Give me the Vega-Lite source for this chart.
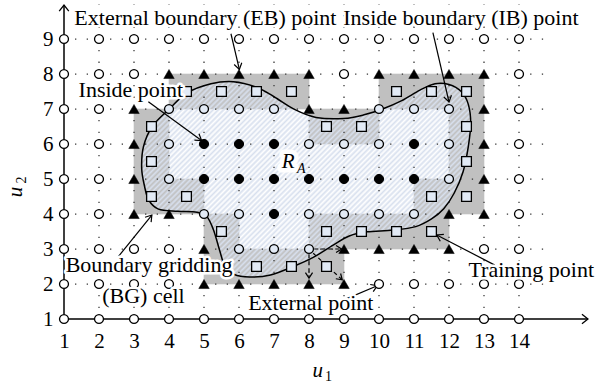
{
  "$schema": "https://vega.github.io/schema/vega-lite/v6.json",
  "width": 525,
  "height": 315,
  "autosize": {"type": "none"},
  "padding": {"left": 64, "top": 4, "right": 19, "bottom": 68},
  "background": "white",
  "config": {"view": {"stroke": null}, "text": {"font": "Liberation Serif"}},
  "datasets": {
    "cells": [
      {"x":4.5,"y":7.5},{"x":5.5,"y":7.5},{"x":6.5,"y":7.5},{"x":7.5,"y":7.5},{"x":10.5,"y":7.5},{"x":11.5,"y":7.5},{"x":12.5,"y":7.5},
      {"x":3.5,"y":6.5},{"x":8.5,"y":6.5},{"x":9.5,"y":6.5},{"x":12.5,"y":6.5},
      {"x":3.5,"y":5.5},{"x":12.5,"y":5.5},
      {"x":3.5,"y":4.5},{"x":4.5,"y":4.5},{"x":11.5,"y":4.5},{"x":12.5,"y":4.5},
      {"x":5.5,"y":3.5},{"x":8.5,"y":3.5},{"x":9.5,"y":3.5},{"x":10.5,"y":3.5},{"x":11.5,"y":3.5},
      {"x":5.5,"y":2.5},{"x":6.5,"y":2.5},{"x":7.5,"y":2.5},{"x":8.5,"y":2.5}
    ],
    "curve": [
      {"i":1,"x":4.03,"y":7.02},{"i":2,"x":4.5,"y":7.45},{"i":3,"x":5.2,"y":7.72},{"i":4,"x":5.84,"y":7.78},
      {"i":5,"x":6.5,"y":7.62},{"i":6,"x":7.0,"y":7.35},{"i":7,"x":7.6,"y":6.98},{"i":8,"x":8.2,"y":6.76},
      {"i":9,"x":9.0,"y":6.73},{"i":10,"x":9.6,"y":6.84},{"i":11,"x":10.1,"y":7.0},{"i":12,"x":10.65,"y":7.24},
      {"i":13,"x":11.17,"y":7.54},{"i":14,"x":11.6,"y":7.72},{"i":15,"x":12.0,"y":7.7},{"i":16,"x":12.35,"y":7.5},
      {"i":17,"x":12.55,"y":7.14},{"i":18,"x":12.62,"y":6.6},{"i":19,"x":12.55,"y":5.92},{"i":20,"x":12.4,"y":5.2},
      {"i":21,"x":12.15,"y":4.6},{"i":22,"x":11.85,"y":4.15},{"i":23,"x":11.5,"y":3.86},{"i":24,"x":11.05,"y":3.64},
      {"i":25,"x":10.4,"y":3.54},{"i":26,"x":9.65,"y":3.49},{"i":27,"x":9.15,"y":3.37},{"i":28,"x":8.69,"y":3.11},
      {"i":29,"x":8.12,"y":2.76},{"i":30,"x":7.55,"y":2.5},{"i":31,"x":6.9,"y":2.26},{"i":32,"x":6.3,"y":2.2},
      {"i":33,"x":5.85,"y":2.28},{"i":34,"x":5.6,"y":2.5},{"i":35,"x":5.45,"y":2.95},{"i":36,"x":5.27,"y":3.55},
      {"i":37,"x":5.08,"y":3.93},{"i":38,"x":4.8,"y":4.05},{"i":39,"x":4.25,"y":4.08},{"i":40,"x":3.7,"y":4.14},
      {"i":41,"x":3.42,"y":4.4},{"i":42,"x":3.3,"y":4.8},{"i":43,"x":3.22,"y":5.3},{"i":44,"x":3.27,"y":5.92},
      {"i":45,"x":3.52,"y":6.5}
    ],
    "grid": [
      {"x":1,"x2":14.7,"y":2,"y2":2},{"x":1,"x2":14.7,"y":3,"y2":3},{"x":1,"x2":14.7,"y":4,"y2":4},{"x":1,"x2":14.7,"y":5,"y2":5},
      {"x":1,"x2":14.7,"y":6,"y2":6},{"x":1,"x2":14.7,"y":7,"y2":7},{"x":1,"x2":14.7,"y":8,"y2":8},{"x":1,"x2":14.7,"y":9,"y2":9},
      {"x":2,"x2":2,"y":1,"y2":10},{"x":3,"x2":3,"y":1,"y2":10},{"x":4,"x2":4,"y":1,"y2":10},{"x":5,"x2":5,"y":1,"y2":10},
      {"x":6,"x2":6,"y":1,"y2":10},{"x":7,"x2":7,"y":1,"y2":10},{"x":8,"x2":8,"y":1,"y2":10},{"x":9,"x2":9,"y":1,"y2":10},
      {"x":10,"x2":10,"y":1,"y2":10},{"x":11,"x2":11,"y":1,"y2":10},{"x":12,"x2":12,"y":1,"y2":10},{"x":13,"x2":13,"y":1,"y2":10},
      {"x":14,"x2":14,"y":1,"y2":10}
    ],
    "pts": [
      {"x":1,"y":9,"t":"ext"},{"x":2,"y":9,"t":"ext"},{"x":3,"y":9,"t":"ext"},{"x":4,"y":9,"t":"ext"},{"x":5,"y":9,"t":"ext"},{"x":6,"y":9,"t":"ext"},{"x":7,"y":9,"t":"ext"},
      {"x":8,"y":9,"t":"ext"},{"x":9,"y":9,"t":"ext"},{"x":10,"y":9,"t":"ext"},{"x":11,"y":9,"t":"ext"},{"x":12,"y":9,"t":"ext"},{"x":13,"y":9,"t":"ext"},{"x":14,"y":9,"t":"ext"},
      {"x":1,"y":8,"t":"ext"},{"x":2,"y":8,"t":"ext"},{"x":3,"y":8,"t":"ext"},{"x":4,"y":8,"t":"eb"},{"x":5,"y":8,"t":"eb"},{"x":6,"y":8,"t":"eb"},{"x":7,"y":8,"t":"eb"},
      {"x":8,"y":8,"t":"eb"},{"x":9,"y":8,"t":"ext"},{"x":10,"y":8,"t":"eb"},{"x":11,"y":8,"t":"eb"},{"x":12,"y":8,"t":"eb"},{"x":13,"y":8,"t":"eb"},{"x":14,"y":8,"t":"ext"},
      {"x":1,"y":7,"t":"ext"},{"x":2,"y":7,"t":"ext"},{"x":3,"y":7,"t":"eb"},{"x":4,"y":7,"t":"ib"},{"x":5,"y":7,"t":"ib"},{"x":6,"y":7,"t":"ib"},{"x":7,"y":7,"t":"ib"},
      {"x":8,"y":7,"t":"eb"},{"x":9,"y":7,"t":"eb"},{"x":10,"y":7,"t":"ib"},{"x":11,"y":7,"t":"ib"},{"x":12,"y":7,"t":"ib"},{"x":13,"y":7,"t":"eb"},{"x":14,"y":7,"t":"ext"},
      {"x":1,"y":6,"t":"ext"},{"x":2,"y":6,"t":"ext"},{"x":3,"y":6,"t":"eb"},{"x":4,"y":6,"t":"ib"},{"x":5,"y":6,"t":"in"},{"x":6,"y":6,"t":"in"},{"x":7,"y":6,"t":"in"},
      {"x":8,"y":6,"t":"ib"},{"x":9,"y":6,"t":"ib"},{"x":10,"y":6,"t":"ib"},{"x":11,"y":6,"t":"in"},{"x":12,"y":6,"t":"ib"},{"x":13,"y":6,"t":"eb"},{"x":14,"y":6,"t":"ext"},
      {"x":1,"y":5,"t":"ext"},{"x":2,"y":5,"t":"ext"},{"x":3,"y":5,"t":"eb"},{"x":4,"y":5,"t":"ib"},{"x":5,"y":5,"t":"in"},{"x":6,"y":5,"t":"in"},{"x":7,"y":5,"t":"in"},
      {"x":8,"y":5,"t":"in"},{"x":9,"y":5,"t":"in"},{"x":10,"y":5,"t":"in"},{"x":11,"y":5,"t":"in"},{"x":12,"y":5,"t":"ib"},{"x":13,"y":5,"t":"eb"},{"x":14,"y":5,"t":"ext"},
      {"x":1,"y":4,"t":"ext"},{"x":2,"y":4,"t":"ext"},{"x":3,"y":4,"t":"eb"},{"x":4,"y":4,"t":"eb"},{"x":5,"y":4,"t":"ib"},{"x":6,"y":4,"t":"ib"},{"x":7,"y":4,"t":"in"},
      {"x":8,"y":4,"t":"ib"},{"x":9,"y":4,"t":"ib"},{"x":10,"y":4,"t":"ib"},{"x":11,"y":4,"t":"ib"},{"x":12,"y":4,"t":"eb"},{"x":13,"y":4,"t":"eb"},{"x":14,"y":4,"t":"ext"},
      {"x":1,"y":3,"t":"ext"},{"x":2,"y":3,"t":"ext"},{"x":3,"y":3,"t":"ext"},{"x":4,"y":3,"t":"ext"},{"x":5,"y":3,"t":"eb"},{"x":6,"y":3,"t":"ib"},{"x":7,"y":3,"t":"ib"},
      {"x":8,"y":3,"t":"ib"},{"x":9,"y":3,"t":"eb"},{"x":10,"y":3,"t":"eb"},{"x":11,"y":3,"t":"eb"},{"x":12,"y":3,"t":"eb"},{"x":13,"y":3,"t":"ext"},{"x":14,"y":3,"t":"ext"},
      {"x":1,"y":2,"t":"ext"},{"x":2,"y":2,"t":"ext"},{"x":3,"y":2,"t":"ext"},{"x":4,"y":2,"t":"ext"},{"x":5,"y":2,"t":"eb"},{"x":6,"y":2,"t":"eb"},{"x":7,"y":2,"t":"eb"},
      {"x":8,"y":2,"t":"eb"},{"x":9,"y":2,"t":"eb"},{"x":10,"y":2,"t":"ext"},{"x":11,"y":2,"t":"ext"},{"x":12,"y":2,"t":"ext"},{"x":13,"y":2,"t":"ext"},{"x":14,"y":2,"t":"ext"},
      {"x":1,"y":1,"t":"ext"},{"x":2,"y":1,"t":"ext"},{"x":3,"y":1,"t":"ext"},{"x":4,"y":1,"t":"ext"},{"x":5,"y":1,"t":"ext"},{"x":6,"y":1,"t":"ext"},{"x":7,"y":1,"t":"ext"},
      {"x":8,"y":1,"t":"ext"},{"x":9,"y":1,"t":"ext"},{"x":10,"y":1,"t":"ext"},{"x":11,"y":1,"t":"ext"},{"x":12,"y":1,"t":"ext"},{"x":13,"y":1,"t":"ext"},{"x":14,"y":1,"t":"ext"}
    ],
    "arrows": [
      {"x":5.77,"y":9.15,"x2":6.01,"y2":8.13},
      {"x":11.54,"y":9.18,"x2":12.0,"y2":7.2},
      {"x":3.41,"y":7.21,"x2":4.93,"y2":6.1},
      {"x":2.55,"y":2.78,"x2":3.51,"y2":3.97},
      {"x":13.31,"y":2.54,"x2":11.65,"y2":3.4},
      {"x":8.98,"y":1.54,"x2":9.95,"y2":1.95}
    ],
    "nbr": [
      {"x":8.15,"y":3.0,"x2":8.93,"y2":3.0},
      {"x":8.0,"y":2.85,"x2":8.0,"y2":2.17},
      {"x":8.12,"y":2.88,"x2":8.95,"y2":2.12}
    ],
    "axes": [
      {"x":1,"y":1,"x2":15.97,"y2":1},
      {"x":1,"y":1,"x2":1,"y2":9.97}
    ],
    "notes": [
      {"x":5.04,"y":9.4,"text":"External boundary (EB) point"},
      {"x":12.34,"y":9.4,"text":"Inside boundary (IB) point"},
      {"x":2.91,"y":7.35,"text":"Inside point"},
      {"x":3.43,"y":2.35,"text":"Boundary gridding"},
      {"x":3.27,"y":1.45,"text":"(BG) cell"},
      {"x":8.05,"y":1.25,"text":"External point"},
      {"x":14.35,"y":2.19,"text":"Training point"}
    ],
    "ra": [
      {"x":7.22,"y":5.31,"text":"R"}
    ],
    "ra_sub": [
      {"x":7.66,"y":5.18,"text":"A"}
    ]
  },
  "encoding": {
    "x": {"field": "x", "type": "quantitative", "scale": {"domain": [1, 16], "nice": false, "zero": false},
          "axis": {"values": [1,2,3,4,5,6,7,8,9,10,11,12,13,14], "title": null, "grid": false, "ticks": false, "domain": false,
                   "labelFont": "Liberation Serif", "labelFontSize": 21, "labelColor": "black", "labelPadding": 11, "labelFlush": false, "labelOverlap": false}},
    "y": {"field": "y", "type": "quantitative", "scale": {"domain": [1, 10], "nice": false, "zero": false},
          "axis": {"values": [1,2,3,4,5,6,7,8,9], "title": null, "grid": false, "ticks": false, "domain": false,
                   "labelFont": "Liberation Serif", "labelFontSize": 21, "labelColor": "black", "labelPadding": 11, "labelFlush": false, "labelOverlap": false}}
  },
  "layer": [
    {
      "data": {"name": "cells"},
      "mark": {"type": "point", "shape": "square", "filled": true, "fill": "#c0c0c0", "stroke": "#c0c0c0", "strokeWidth": 0.6, "size": 1225, "opacity": 1}
    },
    {
      "data": {"name": "curve"},
      "mark": {"type": "line", "interpolate": "cardinal-closed", "strokeOpacity": 0,
        "fill": {"gradient": "linear", "x1": 0, "y1": 0, "x2": 1.18, "y2": 0.7,
          "stops": [
            {"offset":0,"color":"#d8e0ee"},{"offset":0.005,"color":"#d8e0ee00"},{"offset":0.01,"color":"#d8e0ee"},{"offset":0.015,"color":"#d8e0ee00"},
            {"offset":0.02,"color":"#d8e0ee"},{"offset":0.025,"color":"#d8e0ee00"},{"offset":0.03,"color":"#d8e0ee"},{"offset":0.035,"color":"#d8e0ee00"},
            {"offset":0.04,"color":"#d8e0ee"},{"offset":0.045,"color":"#d8e0ee00"},{"offset":0.05,"color":"#d8e0ee"},{"offset":0.055,"color":"#d8e0ee00"},
            {"offset":0.06,"color":"#d8e0ee"},{"offset":0.065,"color":"#d8e0ee00"},{"offset":0.07,"color":"#d8e0ee"},{"offset":0.075,"color":"#d8e0ee00"},
            {"offset":0.08,"color":"#d8e0ee"},{"offset":0.085,"color":"#d8e0ee00"},{"offset":0.09,"color":"#d8e0ee"},{"offset":0.095,"color":"#d8e0ee00"},
            {"offset":0.1,"color":"#d8e0ee"},{"offset":0.105,"color":"#d8e0ee00"},{"offset":0.11,"color":"#d8e0ee"},{"offset":0.115,"color":"#d8e0ee00"},
            {"offset":0.12,"color":"#d8e0ee"},{"offset":0.125,"color":"#d8e0ee00"},{"offset":0.13,"color":"#d8e0ee"},{"offset":0.135,"color":"#d8e0ee00"},
            {"offset":0.14,"color":"#d8e0ee"},{"offset":0.145,"color":"#d8e0ee00"},{"offset":0.15,"color":"#d8e0ee"},{"offset":0.155,"color":"#d8e0ee00"},
            {"offset":0.16,"color":"#d8e0ee"},{"offset":0.165,"color":"#d8e0ee00"},{"offset":0.17,"color":"#d8e0ee"},{"offset":0.175,"color":"#d8e0ee00"},
            {"offset":0.18,"color":"#d8e0ee"},{"offset":0.185,"color":"#d8e0ee00"},{"offset":0.19,"color":"#d8e0ee"},{"offset":0.195,"color":"#d8e0ee00"},
            {"offset":0.2,"color":"#d8e0ee"},{"offset":0.205,"color":"#d8e0ee00"},{"offset":0.21,"color":"#d8e0ee"},{"offset":0.215,"color":"#d8e0ee00"},
            {"offset":0.22,"color":"#d8e0ee"},{"offset":0.225,"color":"#d8e0ee00"},{"offset":0.23,"color":"#d8e0ee"},{"offset":0.235,"color":"#d8e0ee00"},
            {"offset":0.24,"color":"#d8e0ee"},{"offset":0.245,"color":"#d8e0ee00"},{"offset":0.25,"color":"#d8e0ee"},{"offset":0.255,"color":"#d8e0ee00"},
            {"offset":0.26,"color":"#d8e0ee"},{"offset":0.265,"color":"#d8e0ee00"},{"offset":0.27,"color":"#d8e0ee"},{"offset":0.275,"color":"#d8e0ee00"},
            {"offset":0.28,"color":"#d8e0ee"},{"offset":0.285,"color":"#d8e0ee00"},{"offset":0.29,"color":"#d8e0ee"},{"offset":0.295,"color":"#d8e0ee00"},
            {"offset":0.3,"color":"#d8e0ee"},{"offset":0.305,"color":"#d8e0ee00"},{"offset":0.31,"color":"#d8e0ee"},{"offset":0.315,"color":"#d8e0ee00"},
            {"offset":0.32,"color":"#d8e0ee"},{"offset":0.325,"color":"#d8e0ee00"},{"offset":0.33,"color":"#d8e0ee"},{"offset":0.335,"color":"#d8e0ee00"},
            {"offset":0.34,"color":"#d8e0ee"},{"offset":0.345,"color":"#d8e0ee00"},{"offset":0.35,"color":"#d8e0ee"},{"offset":0.355,"color":"#d8e0ee00"},
            {"offset":0.36,"color":"#d8e0ee"},{"offset":0.365,"color":"#d8e0ee00"},{"offset":0.37,"color":"#d8e0ee"},{"offset":0.375,"color":"#d8e0ee00"},
            {"offset":0.38,"color":"#d8e0ee"},{"offset":0.385,"color":"#d8e0ee00"},{"offset":0.39,"color":"#d8e0ee"},{"offset":0.395,"color":"#d8e0ee00"},
            {"offset":0.4,"color":"#d8e0ee"},{"offset":0.405,"color":"#d8e0ee00"},{"offset":0.41,"color":"#d8e0ee"},{"offset":0.415,"color":"#d8e0ee00"},
            {"offset":0.42,"color":"#d8e0ee"},{"offset":0.425,"color":"#d8e0ee00"},{"offset":0.43,"color":"#d8e0ee"},{"offset":0.435,"color":"#d8e0ee00"},
            {"offset":0.44,"color":"#d8e0ee"},{"offset":0.445,"color":"#d8e0ee00"},{"offset":0.45,"color":"#d8e0ee"},{"offset":0.455,"color":"#d8e0ee00"},
            {"offset":0.46,"color":"#d8e0ee"},{"offset":0.465,"color":"#d8e0ee00"},{"offset":0.47,"color":"#d8e0ee"},{"offset":0.475,"color":"#d8e0ee00"},
            {"offset":0.48,"color":"#d8e0ee"},{"offset":0.485,"color":"#d8e0ee00"},{"offset":0.49,"color":"#d8e0ee"},{"offset":0.495,"color":"#d8e0ee00"},
            {"offset":0.5,"color":"#d8e0ee"},{"offset":0.505,"color":"#d8e0ee00"},{"offset":0.51,"color":"#d8e0ee"},{"offset":0.515,"color":"#d8e0ee00"},
            {"offset":0.52,"color":"#d8e0ee"},{"offset":0.525,"color":"#d8e0ee00"},{"offset":0.53,"color":"#d8e0ee"},{"offset":0.535,"color":"#d8e0ee00"},
            {"offset":0.54,"color":"#d8e0ee"},{"offset":0.545,"color":"#d8e0ee00"},{"offset":0.55,"color":"#d8e0ee"},{"offset":0.555,"color":"#d8e0ee00"},
            {"offset":0.56,"color":"#d8e0ee"},{"offset":0.565,"color":"#d8e0ee00"},{"offset":0.57,"color":"#d8e0ee"},{"offset":0.575,"color":"#d8e0ee00"},
            {"offset":0.58,"color":"#d8e0ee"},{"offset":0.585,"color":"#d8e0ee00"},{"offset":0.59,"color":"#d8e0ee"},{"offset":0.595,"color":"#d8e0ee00"},
            {"offset":0.6,"color":"#d8e0ee"},{"offset":0.605,"color":"#d8e0ee00"},{"offset":0.61,"color":"#d8e0ee"},{"offset":0.615,"color":"#d8e0ee00"},
            {"offset":0.62,"color":"#d8e0ee"},{"offset":0.625,"color":"#d8e0ee00"},{"offset":0.63,"color":"#d8e0ee"},{"offset":0.635,"color":"#d8e0ee00"},
            {"offset":0.64,"color":"#d8e0ee"},{"offset":0.645,"color":"#d8e0ee00"},{"offset":0.65,"color":"#d8e0ee"},{"offset":0.655,"color":"#d8e0ee00"},
            {"offset":0.66,"color":"#d8e0ee"},{"offset":0.665,"color":"#d8e0ee00"},{"offset":0.67,"color":"#d8e0ee"},{"offset":0.675,"color":"#d8e0ee00"},
            {"offset":0.68,"color":"#d8e0ee"},{"offset":0.685,"color":"#d8e0ee00"},{"offset":0.69,"color":"#d8e0ee"},{"offset":0.695,"color":"#d8e0ee00"},
            {"offset":0.7,"color":"#d8e0ee"},{"offset":0.705,"color":"#d8e0ee00"},{"offset":0.71,"color":"#d8e0ee"},{"offset":0.715,"color":"#d8e0ee00"},
            {"offset":0.72,"color":"#d8e0ee"},{"offset":0.725,"color":"#d8e0ee00"},{"offset":0.73,"color":"#d8e0ee"},{"offset":0.735,"color":"#d8e0ee00"},
            {"offset":0.74,"color":"#d8e0ee"},{"offset":0.745,"color":"#d8e0ee00"},{"offset":0.75,"color":"#d8e0ee"},{"offset":0.755,"color":"#d8e0ee00"},
            {"offset":0.76,"color":"#d8e0ee"},{"offset":0.765,"color":"#d8e0ee00"},{"offset":0.77,"color":"#d8e0ee"},{"offset":0.775,"color":"#d8e0ee00"},
            {"offset":0.78,"color":"#d8e0ee"},{"offset":0.785,"color":"#d8e0ee00"},{"offset":0.79,"color":"#d8e0ee"},{"offset":0.795,"color":"#d8e0ee00"},
            {"offset":0.8,"color":"#d8e0ee"},{"offset":0.805,"color":"#d8e0ee00"},{"offset":0.81,"color":"#d8e0ee"},{"offset":0.815,"color":"#d8e0ee00"},
            {"offset":0.82,"color":"#d8e0ee"},{"offset":0.825,"color":"#d8e0ee00"},{"offset":0.83,"color":"#d8e0ee"},{"offset":0.835,"color":"#d8e0ee00"},
            {"offset":0.84,"color":"#d8e0ee"},{"offset":0.845,"color":"#d8e0ee00"},{"offset":0.85,"color":"#d8e0ee"},{"offset":0.855,"color":"#d8e0ee00"},
            {"offset":0.86,"color":"#d8e0ee"},{"offset":0.865,"color":"#d8e0ee00"},{"offset":0.87,"color":"#d8e0ee"},{"offset":0.875,"color":"#d8e0ee00"},
            {"offset":0.88,"color":"#d8e0ee"},{"offset":0.885,"color":"#d8e0ee00"},{"offset":0.89,"color":"#d8e0ee"},{"offset":0.895,"color":"#d8e0ee00"},
            {"offset":0.9,"color":"#d8e0ee"},{"offset":0.905,"color":"#d8e0ee00"},{"offset":0.91,"color":"#d8e0ee"},{"offset":0.915,"color":"#d8e0ee00"},
            {"offset":0.92,"color":"#d8e0ee"},{"offset":0.925,"color":"#d8e0ee00"},{"offset":0.93,"color":"#d8e0ee"},{"offset":0.935,"color":"#d8e0ee00"},
            {"offset":0.94,"color":"#d8e0ee"},{"offset":0.945,"color":"#d8e0ee00"},{"offset":0.95,"color":"#d8e0ee"},{"offset":0.955,"color":"#d8e0ee00"},
            {"offset":0.96,"color":"#d8e0ee"},{"offset":0.965,"color":"#d8e0ee00"},{"offset":0.97,"color":"#d8e0ee"},{"offset":0.975,"color":"#d8e0ee00"},
            {"offset":0.98,"color":"#d8e0ee"},{"offset":0.985,"color":"#d8e0ee00"},{"offset":0.99,"color":"#d8e0ee"},{"offset":0.995,"color":"#d8e0ee00"},
            {"offset":1,"color":"#d8e0ee"}
          ]}},
      "encoding": {"order": {"field": "i", "type": "quantitative"}}
    },
    {
      "data": {"name": "grid"},
      "mark": {"type": "rule", "stroke": "#333", "strokeWidth": 1.25, "strokeDash": [1.3, 10.37], "strokeDashOffset": 0.65},
      "encoding": {"x2": {"field": "x2"}, "y2": {"field": "y2"}}
    },
    {
      "data": {"name": "curve"},
      "mark": {"type": "line", "interpolate": "cardinal-closed", "stroke": "black", "strokeWidth": 1.5},
      "encoding": {"order": {"field": "i", "type": "quantitative"}}
    },
    {
      "data": {"name": "arrows"},
      "layer": [
        {
          "mark": {"type": "rule", "stroke": "black", "strokeWidth": 1.2},
          "encoding": {"x2": {"field": "x2"}, "y2": {"field": "y2"}}
        },
        {
          "transform": [
            {"calculate": "atan2(datum.y - datum.y2, datum.x2 - datum.x) * 180 / PI", "as": "ang"},
            {"calculate": "datum.x2", "as": "x"},
            {"calculate": "datum.y2", "as": "y"}
          ],
          "mark": {"type": "point", "shape": "M -1 -0.65 L 0 0 L -1 0.65", "filled": false, "stroke": "black", "strokeWidth": 1.2, "size": 144, "opacity": 1},
          "encoding": {"angle": {"field": "ang", "type": "quantitative", "scale": null}}
        }
      ]
    },
    {
      "data": {"name": "nbr"},
      "layer": [
        {
          "mark": {"type": "rule", "stroke": "black", "strokeWidth": 1.2, "strokeDash": [4, 3]},
          "encoding": {"x2": {"field": "x2"}, "y2": {"field": "y2"}}
        },
        {
          "transform": [
            {"calculate": "atan2(datum.y - datum.y2, datum.x2 - datum.x) * 180 / PI", "as": "ang"},
            {"calculate": "datum.x2", "as": "x"},
            {"calculate": "datum.y2", "as": "y"}
          ],
          "mark": {"type": "point", "shape": "M -1 -0.65 L 0 0 L -1 0.65", "filled": false, "stroke": "black", "strokeWidth": 1.2, "size": 120, "opacity": 1},
          "encoding": {"angle": {"field": "ang", "type": "quantitative", "scale": null}}
        }
      ]
    },
    {
      "data": {"name": "axes"},
      "layer": [
        {
          "mark": {"type": "rule", "stroke": "black", "strokeWidth": 1.5},
          "encoding": {"x2": {"field": "x2"}, "y2": {"field": "y2"}}
        },
        {
          "transform": [
            {"calculate": "atan2(datum.y - datum.y2, datum.x2 - datum.x) * 180 / PI", "as": "ang"},
            {"calculate": "datum.x2", "as": "x"},
            {"calculate": "datum.y2", "as": "y"}
          ],
          "mark": {"type": "point", "shape": "M -1 -0.8 L 0 0 L -1 0.8", "filled": false, "stroke": "black", "strokeWidth": 1.3, "size": 144, "opacity": 1},
          "encoding": {"angle": {"field": "ang", "type": "quantitative", "scale": null}}
        }
      ]
    },
    {
      "data": {"name": "pts"},
      "transform": [{"filter": "datum.t == 'ext'"}],
      "mark": {"type": "point", "shape": "circle", "filled": true, "fill": "white", "stroke": "black", "strokeWidth": 1.3, "size": 80, "opacity": 1}
    },
    {
      "data": {"name": "pts"},
      "transform": [{"filter": "datum.t == 'ib'"}],
      "mark": {"type": "point", "shape": "circle", "filled": true, "fill": "#e2eaf5", "stroke": "black", "strokeWidth": 1.3, "size": 80, "opacity": 1}
    },
    {
      "data": {"name": "pts"},
      "transform": [{"filter": "datum.t == 'in'"}],
      "mark": {"type": "point", "shape": "circle", "filled": true, "fill": "black", "stroke": "black", "strokeWidth": 1, "size": 85, "opacity": 1}
    },
    {
      "data": {"name": "pts"},
      "transform": [{"filter": "datum.t == 'eb'"}],
      "mark": {"type": "point", "shape": "triangle-up", "filled": true, "fill": "black", "stroke": "black", "strokeWidth": 0.5, "size": 110, "opacity": 1}
    },
    {
      "data": {"name": "cells"},
      "mark": {"type": "point", "shape": "square", "filled": true, "fill": "#e2eaf5", "stroke": "black", "strokeWidth": 1.3, "size": 95, "opacity": 1}
    },
    {
      "data": {"name": "notes"},
      "mark": {"type": "text", "fontSize": 22, "align": "center", "baseline": "alphabetic", "fill": "white", "stroke": "white", "strokeWidth": 5, "strokeJoin": "round"},
      "encoding": {"text": {"field": "text"}}
    },
    {
      "data": {"name": "notes"},
      "mark": {"type": "text", "fontSize": 22, "align": "center", "baseline": "alphabetic", "fill": "black"},
      "encoding": {"text": {"field": "text"}}
    },
    {
      "data": {"name": "ra"},
      "mark": {"type": "text", "fontSize": 21, "fontStyle": "italic", "align": "left", "baseline": "alphabetic", "fill": "white", "stroke": "white", "strokeWidth": 9, "strokeJoin": "round"},
      "encoding": {"text": {"field": "text"}}
    },
    {
      "data": {"name": "ra"},
      "mark": {"type": "text", "fontSize": 21, "fontStyle": "italic", "align": "left", "baseline": "alphabetic", "fill": "black"},
      "encoding": {"text": {"field": "text"}}
    },
    {
      "data": {"name": "ra_sub"},
      "mark": {"type": "text", "fontSize": 14, "fontStyle": "italic", "align": "left", "baseline": "alphabetic", "fill": "black"},
      "encoding": {"text": {"field": "text"}}
    },
    {
      "data": {"values": [{"x": 8.1, "y": -0.66, "text": "u"}]},
      "mark": {"type": "text", "fontSize": 21, "fontStyle": "italic", "align": "left", "baseline": "alphabetic", "fill": "black"},
      "encoding": {"text": {"field": "text"}}
    },
    {
      "data": {"values": [{"x": 8.46, "y": -0.78, "text": "1"}]},
      "mark": {"type": "text", "fontSize": 14, "align": "left", "baseline": "alphabetic", "fill": "black"},
      "encoding": {"text": {"field": "text"}}
    },
    {
      "data": {"values": [{"x": -0.2, "y": 4.63, "text": "u"}]},
      "mark": {"type": "text", "fontSize": 21, "fontStyle": "italic", "angle": 270, "align": "center", "baseline": "alphabetic", "fill": "black"},
      "encoding": {"text": {"field": "text"}}
    },
    {
      "data": {"values": [{"x": -0.1, "y": 4.97, "text": "2"}]},
      "mark": {"type": "text", "fontSize": 14, "angle": 270, "align": "center", "baseline": "alphabetic", "fill": "black"},
      "encoding": {"text": {"field": "text"}}
    }
  ]
}
